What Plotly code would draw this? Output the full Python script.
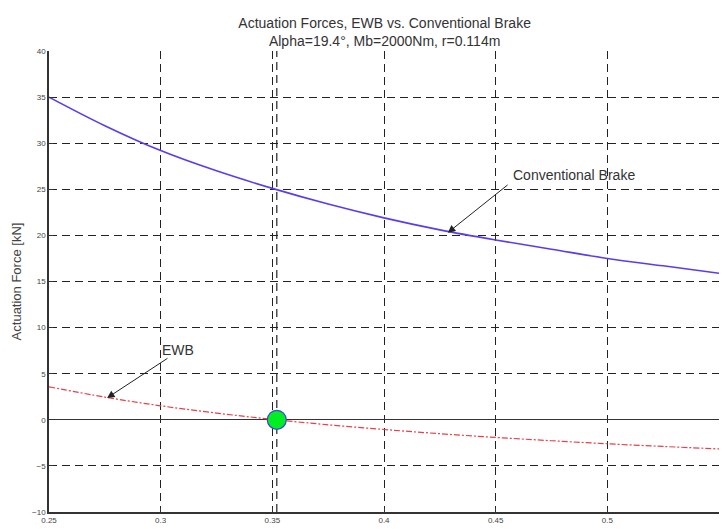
import plotly.graph_objects as go

mu = [0.25, 0.275, 0.3, 0.325, 0.35, 0.375, 0.4, 0.425, 0.45, 0.475, 0.5, 0.525, 0.55]
conventional = [35.0, 31.9, 29.2, 27.0, 25.1, 23.4, 21.9, 20.6, 19.5, 18.5, 17.5, 16.7, 15.9]
ewb = [3.58, 2.46, 1.52, 0.73, 0.05, -0.54, -1.05, -1.51, -1.91, -2.27, -2.60, -2.89, -3.16]
mu_zero = 0.352
x_ticks = [0.25, 0.3, 0.35, 0.4, 0.45, 0.5, 0.55]
x_ticklabels = ["0.25", "0.3", "0.35", "0.4", "0.45", "0.5", "0.55"]
y_ticks = [-10, -5, 0, 5, 10, 15, 20, 25, 30, 35, 40]

FONT = "Liberation Sans, Arial, sans-serif"
GRID_DASH = "8px,5px"

fig = go.Figure()
fig.add_trace(go.Scatter(x=mu, y=conventional, mode="lines", line=dict(color="#5a3cf0", width=1.6, shape="spline"),
                         showlegend=False, hoverinfo="skip"))
fig.add_trace(go.Scatter(x=mu, y=ewb, mode="lines", line=dict(color="#e8404a", width=1.2, dash="6px,2px,2px,2px", shape="spline"),
                         showlegend=False, hoverinfo="skip"))
fig.add_trace(go.Scatter(x=[mu_zero], y=[0], mode="markers",
                         marker=dict(size=19, color="#00ee22", line=dict(color="#4040e0", width=1.2)),
                         showlegend=False, hoverinfo="skip"))

fig.add_vline(x=mu_zero, line=dict(color="#222", width=1.2, dash=GRID_DASH), layer="below")

fig.add_annotation(x=0.4286, y=20.3, ax=0.456, ay=25.6, xref="x", yref="y", axref="x", ayref="y",
                   text="", showarrow=True, arrowhead=2, arrowsize=1.5, arrowwidth=1, arrowcolor="#222")
fig.add_annotation(x=0.457, y=26.5, text="Conventional Brake", showarrow=False,
                   xanchor="left", yanchor="middle", font=dict(family=FONT, size=14, color="#333"))
fig.add_annotation(x=0.276, y=2.37, ax=0.3037, ay=6.77, xref="x", yref="y", axref="x", ayref="y",
                   text="", showarrow=True, arrowhead=2, arrowsize=1.5, arrowwidth=1, arrowcolor="#222")
fig.add_annotation(x=0.2997, y=7.6, text="EWB", showarrow=False,
                   xanchor="left", yanchor="middle", font=dict(family=FONT, size=14, color="#333"))

fig.update_layout(
    width=723, height=529,
    margin=dict(l=49, r=4, t=51, b=13),
    paper_bgcolor="white", plot_bgcolor="white",
    font=dict(family=FONT, color="#333"),
    title=dict(text="Actuation Forces, EWB vs. Conventional Brake<br>Alpha=19.4°, Mb=2000Nm, r=0.114m",
               x=0.532, xanchor="center", y=0.948, yanchor="top", font=dict(size=14, color="#333")),
)
fig.update_xaxes(range=[0.25, 0.55], tickvals=x_ticks, ticktext=x_ticklabels,
                 showgrid=True, gridcolor="#222", griddash=GRID_DASH, gridwidth=1,
                 showline=True, linecolor="#333", linewidth=1.5, zeroline=False,
                 ticks="inside", ticklen=4, tickcolor="#333",
                 tickfont=dict(size=8, color="#444"), ticklabelstandoff=0)
fig.update_yaxes(range=[-10, 40], tickvals=y_ticks,
                 showgrid=True, gridcolor="#222", griddash=GRID_DASH, gridwidth=1,
                 showline=True, linecolor="#333", linewidth=1.5,
                 zeroline=True, zerolinecolor="#333", zerolinewidth=1.3,
                 ticks="inside", ticklen=4, tickcolor="#333",
                 tickfont=dict(size=8, color="#444"),
                 title=dict(text="Actuation Force [kN]", font=dict(size=13, color="#444"), standoff=8))

fig.write_html("out.html")
